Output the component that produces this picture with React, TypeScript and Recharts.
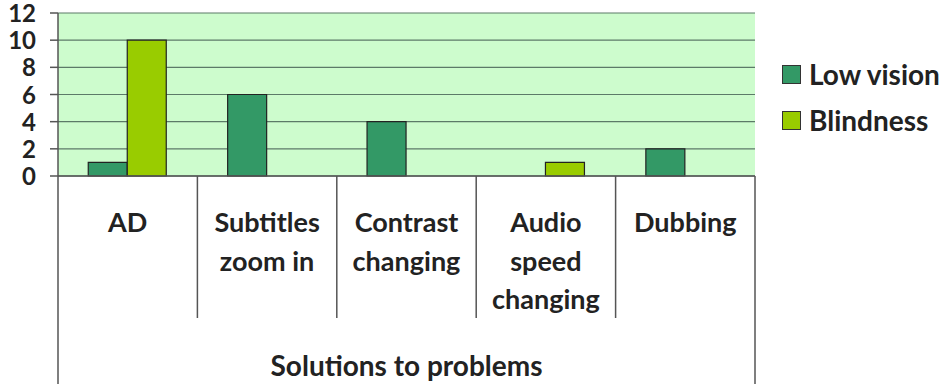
import { BarChart, Bar, XAxis, YAxis, CartesianGrid } from "recharts"

const categories = ["AD", "Subtitles\nzoom in", "Contrast\nchanging", "Audio\nspeed\nchanging", "Dubbing"]
const lowVision = [1, 6, 4, 0, 2]
const blindness = [10, 0, 0, 1, 0]
const yTicks = [0, 2, 4, 6, 8, 10, 12]

const FONT = "Lato, 'Open Sans', sans-serif"
const LOW_COLOR = "#339966"
const BLIND_COLOR = "#99cc00"

const series = [
  { key: "low", name: "Low vision", color: LOW_COLOR },
  { key: "blind", name: "Blindness", color: BLIND_COLOR },
]

const data = categories.map((name, i) => ({
  name,
  low: lowVision[i],
  blind: blindness[i],
}))

function CategoryTick(props: any) {
  const { x, y, payload, index } = props
  const half = payload.offset ?? 0
  const lines = String(payload.value).split("\n")
  const isLast = index === categories.length - 1
  return (
    <g>
      <line x1={x - half} y1={y} x2={x - half} y2={y + (index === 0 ? 208 : 142)} stroke="#555" strokeWidth={1.5} />
      {isLast && <line x1={x + half} y1={y} x2={x + half} y2={y + 208} stroke="#555" strokeWidth={1.5} />}
      <text textAnchor="middle" fill="#222" fontFamily={FONT} fontWeight={700} fontSize={27}>
        {lines.map((line, i) => (
          <tspan key={i} x={x} y={y + 56 + i * 38.5}>
            {line}
          </tspan>
        ))}
      </text>
    </g>
  )
}

function ValueTick(props: any) {
  const { x, y, payload } = props
  return (
    <text x={x} y={y + 9} textAnchor="end" fill="#222" fontFamily={FONT} fontWeight={700} fontSize={24}>
      {payload.value}
    </text>
  )
}

function LegendBox() {
  return (
    <div
      style={{
        position: "absolute",
        left: 782,
        top: 51,
        fontFamily: FONT,
        fontWeight: 700,
        fontSize: 28,
        color: "#222",
      }}
    >
      {series.map((s) => (
        <div key={s.key} style={{ display: "flex", alignItems: "center", height: 46, whiteSpace: "nowrap" }}>
          <span
            style={{
              width: 17,
              height: 17,
              background: s.color,
              border: "1px solid #333",
              marginRight: 8,
              display: "inline-block",
            }}
          />
          <span>{s.name}</span>
        </div>
      ))}
    </div>
  )
}

export default function App() {
  return (
    <div style={{ position: "absolute", left: 0, top: 0, width: 947, height: 384, background: "#fff" }}>
      <BarChart
        width={947}
        height={384}
        data={data}
        margin={{ top: 13, right: 192, left: 0, bottom: 0 }}
        barCategoryGap="21.7%"
        barGap={0}
      >
        <CartesianGrid vertical={false} fill="#cdfccd" stroke="#5c7a68" strokeWidth={1.2} />
        <XAxis
          dataKey="name"
          height={208}
          interval={0}
          tickLine={false}
          tickSize={0}
          tickMargin={0}
          axisLine={{ stroke: "#555", strokeWidth: 1.5 }}
          tick={<CategoryTick />}
          label={{
            value: "Solutions to problems",
            position: "insideBottom",
            offset: 8,
            fill: "#222",
            fontFamily: FONT,
            fontWeight: 700,
            fontSize: 28,
          }}
        />
        <YAxis
          width={58}
          domain={[0, 12]}
          ticks={yTicks}
          interval={0}
          tickSize={8}
          tickMargin={14}
          axisLine={{ stroke: "#555", strokeWidth: 1.5 }}
          tickLine={{ stroke: "#555", strokeWidth: 1.5 }}
          tick={<ValueTick />}
        />
        <YAxis
          yAxisId="r"
          orientation="right"
          width={0}
          domain={[0, 12]}
          tick={false}
          tickLine={false}
          axisLine={{ stroke: "#aaa", strokeWidth: 1.5 }}
        />
        {series.map((s) => (
          <Bar
            key={s.key}
            dataKey={s.key}
            name={s.name}
            fill={s.color}
            stroke="#222"
            strokeWidth={1.2}
            isAnimationActive={false}
          />
        ))}
      </BarChart>
      <LegendBox />
    </div>
  )
}
